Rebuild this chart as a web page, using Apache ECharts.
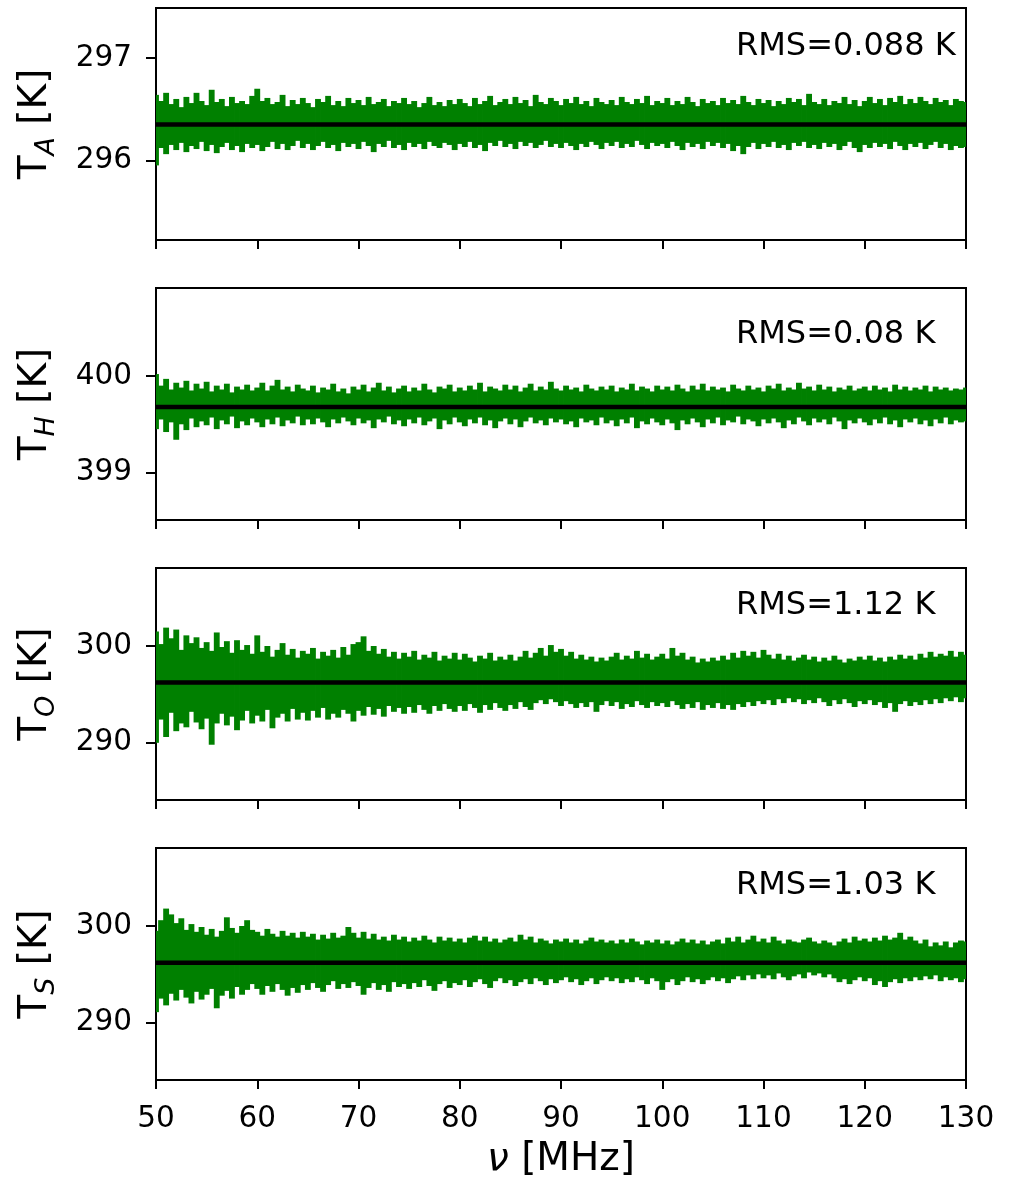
<!DOCTYPE html>
<html><head><meta charset="utf-8">
<script src="https://cdn.jsdelivr.net/npm/echarts@6/dist/echarts.min.js"></script>
<style>html,body{margin:0;padding:0;background:#fff}#c{width:1013px;height:1187px}</style>
</head><body><div id="c"></div>
<script>
// sample frequencies: 50 .. 130 MHz every 0.5 MHz (161 samples)
const freqStart = 50, freqStep = 0.5;

// T_A envelope (upper / lower spike extents)
const taHi = [
296.64,296.58,296.66,296.55,296.60,296.52,296.62,296.56,296.66,296.58,
296.54,296.69,296.57,296.60,296.53,296.62,296.56,296.58,296.55,296.63,
296.70,296.58,296.61,296.55,296.57,296.64,296.53,296.59,296.55,296.61,
296.56,296.52,296.60,296.57,296.63,296.54,296.58,296.53,296.61,296.56,
296.59,296.54,296.62,296.55,296.57,296.60,296.53,296.58,296.56,296.61,
296.55,296.58,296.52,296.56,296.62,296.54,296.57,296.53,296.59,296.55,
296.60,296.56,296.53,296.61,296.55,296.58,296.63,296.54,296.57,296.60,
296.55,296.62,296.56,296.59,296.53,296.64,296.57,296.55,296.61,296.58,
296.54,296.60,296.56,296.62,296.55,296.58,296.53,296.61,296.57,296.55,
296.59,296.54,296.62,296.57,296.55,296.60,296.56,296.63,296.54,296.58,
296.56,296.61,296.54,296.58,296.55,296.62,296.57,296.53,296.60,296.56,
296.58,296.54,296.61,296.56,296.59,296.55,296.63,296.57,296.54,296.60,
296.56,296.59,296.53,296.58,296.55,296.61,296.57,296.60,296.54,296.65,
296.57,296.55,296.60,296.54,296.58,296.56,296.62,296.55,296.59,296.53,
296.58,296.62,296.56,296.60,296.54,296.61,296.57,296.63,296.55,296.60,
296.56,296.62,296.58,296.55,296.61,296.57,296.59,296.54,296.60,296.58,
296.57];
const taLo = [
295.95,296.12,296.06,296.15,296.10,296.17,296.08,296.14,296.11,296.18,
296.09,296.15,296.07,296.13,296.17,296.10,296.14,296.08,296.16,296.12,
296.15,296.09,296.13,296.18,296.11,296.16,296.10,296.14,296.19,296.12,
296.16,296.10,296.14,296.18,296.12,296.15,296.09,296.17,296.13,296.16,
296.11,296.18,296.14,296.08,296.16,296.13,296.19,296.12,296.15,296.10,
296.17,296.13,296.16,296.11,296.18,296.14,296.12,296.17,296.15,296.10,
296.16,296.13,296.18,296.12,296.15,296.09,296.17,296.14,296.19,296.13,
296.16,296.11,296.18,296.14,296.17,296.12,296.15,296.19,296.13,296.16,
296.12,296.17,296.14,296.10,296.16,296.13,296.18,296.15,296.11,296.17,
296.14,296.18,296.12,296.16,296.13,296.19,296.15,296.11,296.17,296.14,
296.16,296.12,296.18,296.14,296.10,296.17,296.13,296.16,296.11,296.18,
296.14,296.17,296.12,296.16,296.09,296.14,296.06,296.13,296.17,296.11,
296.16,296.13,296.18,296.12,296.15,296.10,296.17,296.14,296.18,296.12,
296.15,296.11,296.17,296.13,296.16,296.10,296.14,296.18,296.12,296.08,
296.15,296.12,296.17,296.13,296.16,296.11,296.18,296.14,296.10,296.16,
296.13,296.17,296.11,296.15,296.18,296.12,296.16,296.10,296.14,296.12,
296.13];

// T_H envelope
const thHi = [
400.02,399.90,399.97,399.86,399.93,399.88,399.95,399.85,399.92,399.87,
399.94,399.84,399.90,399.86,399.92,399.83,399.89,399.86,399.91,399.85,
399.88,399.93,399.85,399.90,399.96,399.86,399.89,399.84,399.91,399.87,
399.85,399.90,399.83,399.88,399.86,399.92,399.84,399.87,399.82,399.89,
399.86,399.91,399.84,399.88,399.93,399.85,399.89,399.83,399.87,399.90,
399.84,399.88,399.85,399.92,399.86,399.83,399.89,399.87,399.91,399.84,
399.88,399.85,399.90,399.86,399.93,399.84,399.89,399.87,399.85,399.91,
399.86,399.90,399.84,399.88,399.92,399.85,399.89,399.86,399.94,399.87,
399.85,399.90,399.86,399.88,399.84,399.91,399.87,399.85,399.89,399.86,
399.90,399.84,399.88,399.86,399.92,399.85,399.89,399.87,399.84,399.90,
399.86,399.89,399.85,399.91,399.87,399.84,399.90,399.86,399.92,399.85,
399.89,399.86,399.88,399.84,399.91,399.87,399.85,399.90,399.86,399.88,
399.84,399.90,399.87,399.92,399.85,399.88,399.86,399.93,399.87,399.89,
399.85,399.91,399.86,399.89,399.84,399.88,399.86,399.90,399.85,399.87,
399.89,399.85,399.90,399.86,399.88,399.84,399.91,399.86,399.89,399.85,
399.88,399.86,399.90,399.84,399.89,399.86,399.88,399.85,399.87,399.86,
399.88];
const thLo = [
399.45,399.55,399.42,399.52,399.34,399.50,399.44,399.56,399.47,399.53,
399.49,399.57,399.45,399.54,399.50,399.58,399.46,399.53,399.49,399.56,
399.52,399.47,399.55,399.50,399.57,399.48,399.54,399.51,399.58,399.49,
399.55,399.50,399.56,399.52,399.47,399.55,399.51,399.57,399.53,399.49,
399.56,399.51,399.54,399.46,399.55,399.52,399.58,399.50,399.54,399.48,
399.55,399.51,399.57,399.49,399.53,399.56,399.45,399.54,399.50,399.57,
399.52,399.48,399.55,399.51,399.57,399.49,399.54,399.46,399.53,399.56,
399.50,399.55,399.47,399.53,399.57,399.51,399.54,399.49,399.56,399.52,
399.55,399.50,399.53,399.47,399.56,399.52,399.54,399.49,399.57,399.51,
399.54,399.48,399.55,399.51,399.57,399.46,399.53,399.50,399.56,399.52,
399.49,399.55,399.51,399.44,399.54,399.50,399.56,399.52,399.47,399.55,
399.51,399.57,399.49,399.54,399.52,399.58,399.50,399.55,399.53,399.48,
399.55,399.51,399.56,399.52,399.46,399.54,399.50,399.57,399.53,399.49,
399.56,399.52,399.55,399.50,399.57,399.53,399.45,399.54,399.51,399.56,
399.52,399.49,399.55,399.51,399.57,399.50,399.54,399.47,399.55,399.52,
399.56,399.50,399.54,399.48,399.55,399.51,399.57,399.50,399.54,399.52,
399.53];

// T_O envelope
const toHi = [
301.5,300.2,301.9,300.8,301.7,299.6,301.1,300.3,300.9,299.8,
300.4,299.5,301.4,299.9,300.5,299.3,300.6,299.6,300.1,299.2,
301.1,299.4,300.0,298.9,299.6,300.3,299.1,299.7,298.8,299.5,
299.2,299.8,298.7,299.4,299.0,299.6,298.8,299.9,299.1,300.2,
300.4,301.0,299.5,300.0,299.2,299.7,298.9,299.4,298.7,299.3,
298.9,299.5,298.6,299.1,298.8,299.4,298.5,299.0,298.7,299.3,
298.6,299.2,298.8,298.4,299.0,298.7,299.3,298.5,298.9,298.6,
299.1,298.5,298.9,299.5,298.8,299.3,299.8,299.0,300.1,299.4,
299.7,299.0,299.4,298.7,299.1,298.6,298.9,298.4,298.8,298.5,
298.9,299.3,298.6,299.0,298.7,299.5,298.8,299.2,298.6,298.9,
299.2,298.7,299.8,299.0,299.3,298.6,298.9,298.3,298.7,298.4,
298.8,298.5,299.0,298.6,299.3,298.8,299.5,299.0,299.4,298.8,
299.6,299.1,298.7,299.2,298.6,299.0,298.5,298.8,299.1,298.6,
298.9,298.4,298.8,298.5,299.0,298.6,298.3,298.7,298.5,298.9,
298.6,299.0,298.5,298.8,298.4,298.9,298.6,299.1,298.7,299.0,
298.6,299.2,298.8,299.4,298.9,299.2,299.0,299.5,298.9,299.4,
299.1];
const toLo = [
290.0,292.4,290.6,293.1,291.2,292.0,291.6,293.2,292.1,291.4,
292.5,289.8,292.0,293.0,291.8,292.7,291.3,292.3,293.3,292.0,
292.8,292.2,293.4,291.5,292.6,293.0,292.2,293.5,292.4,293.1,
292.3,293.3,292.6,293.6,292.4,293.0,292.6,293.4,293.0,292.2,
293.3,292.8,293.7,292.9,293.5,292.7,293.8,293.2,293.6,293.0,
293.7,293.1,293.9,293.4,293.0,293.8,293.3,294.0,293.5,293.2,
293.8,293.3,294.0,293.6,293.1,293.9,293.4,294.1,293.6,293.3,
293.9,293.5,294.2,293.7,293.4,294.1,294.4,294.0,294.5,294.2,
293.8,294.3,294.0,293.6,294.1,293.7,294.2,293.2,293.9,294.3,
293.8,294.2,293.5,294.0,293.7,294.3,293.9,293.6,294.2,293.8,
294.1,293.7,294.3,293.9,293.5,294.0,293.6,294.2,293.4,293.9,
293.6,294.1,293.5,293.9,293.4,294.0,293.7,294.2,293.8,294.3,
294.0,294.4,293.9,294.5,294.1,294.6,294.2,294.5,294.0,294.4,
294.1,294.6,294.2,293.8,294.4,294.0,294.5,294.1,293.7,294.3,
294.0,294.4,293.9,294.2,293.6,294.1,293.2,294.0,294.3,293.8,
294.2,293.9,294.4,294.0,294.5,294.1,294.6,294.3,294.7,294.2,
294.6];

// T_S envelope
const tsHi = [
299.5,300.6,301.8,301.2,300.3,300.8,299.6,300.2,299.4,299.9,
299.1,299.7,298.9,299.5,300.9,299.8,299.3,300.0,300.6,299.6,
299.4,299.0,299.7,299.2,298.9,299.5,299.0,299.3,298.8,299.4,
298.9,299.2,298.6,299.1,298.7,299.3,298.8,299.0,299.9,299.3,
298.8,299.4,298.7,299.2,298.6,298.9,298.5,299.1,298.6,298.9,
298.4,298.8,298.5,299.0,298.6,298.3,298.9,298.5,298.8,298.4,
298.7,298.3,298.8,299.0,298.5,298.9,298.4,298.7,298.3,298.6,
298.8,298.4,299.1,298.6,298.9,298.3,298.7,298.5,298.2,298.6,
298.4,298.7,298.3,298.6,298.2,298.5,298.8,298.4,298.6,298.3,
298.5,298.2,298.6,298.3,298.7,298.4,298.1,298.5,298.3,298.6,
298.2,298.5,298.1,298.4,298.7,298.3,298.6,298.2,298.5,298.1,
298.4,298.6,298.2,298.8,298.4,298.9,298.3,298.6,299.0,298.4,
298.7,298.3,298.9,298.5,298.2,298.6,298.4,298.3,298.6,298.8,
298.4,298.2,298.5,298.3,298.0,298.4,298.7,298.3,298.9,298.5,
298.7,298.4,298.8,298.5,299.0,298.6,298.8,299.3,298.6,298.9,
298.5,298.2,298.6,297.9,298.3,298.0,298.4,297.8,298.3,298.5,
298.4];
const tsLo = [
291.1,292.5,291.8,293.0,292.3,293.4,292.6,292.0,293.2,292.4,
292.9,293.5,291.5,292.8,293.3,292.5,293.7,292.9,293.4,294.0,
293.5,292.9,293.8,293.2,294.0,293.4,292.8,293.6,293.1,293.9,
293.4,294.1,293.6,293.2,293.9,294.3,293.5,294.0,293.6,294.2,
293.8,292.9,293.6,294.1,293.4,293.9,293.2,294.2,293.7,294.0,
293.5,294.1,293.7,294.4,293.8,293.3,294.0,294.3,293.6,294.1,
293.9,294.4,293.7,294.2,294.5,294.0,293.6,294.3,294.6,294.1,
294.4,293.8,294.2,294.5,294.0,294.6,294.3,293.9,294.5,294.1,
294.4,294.7,294.2,294.5,293.9,294.3,294.6,294.0,294.4,294.7,
294.3,294.6,294.1,294.5,294.2,294.7,294.4,294.0,294.6,294.3,
293.4,294.2,294.5,293.9,294.3,294.7,294.2,294.5,294.0,294.4,
294.7,294.3,294.6,294.1,294.5,294.8,294.4,294.9,294.5,295.0,
294.6,294.9,294.5,295.1,294.7,294.4,294.8,295.0,294.6,295.2,
294.9,295.1,294.7,295.0,294.6,294.2,294.5,294.0,294.4,294.7,
294.3,294.6,293.9,294.3,293.7,294.2,294.5,294.1,294.6,294.3,
294.7,294.4,294.8,294.5,294.9,294.3,294.7,294.4,294.6,294.2,
294.5];

// mean levels (black lines)
const means = [296.35, 399.68, 296.22, 296.2];
const rmsTexts = ['RMS=0.088 K', 'RMS=0.08 K', 'RMS=1.12 K', 'RMS=1.03 K'];
const subs = ['A', 'H', 'O', 'S'];
const yTicks = [[296, 297], [399, 400], [290, 300], [290, 300]];
const xTicks = [50, 60, 70, 80, 90, 100, 110, 120, 130];

const his = [taHi, thHi, toHi, tsHi];
const los = [taLo, thLo, toLo, tsLo];
const yRanges = [[295.22, 297.49], [398.51, 400.91], [284.09, 308.06], [284.09, 308.06]];

const FONT = 'DejaVu Sans';
const GREEN = '#008000';
const tops = [8, 288, 568, 848];
const rmsY = [47, 335, 606, 886];

const grids = [], xAxes = [], yAxes = [], series = [], graphics = [];
for (let i = 0; i < 4; i++) {
  grids.push({left: 156, right: 47, top: tops[i], height: 232, show: true,
    borderColor: '#000', borderWidth: 2, backgroundColor: 'transparent'});
  xAxes.push({type: 'value', gridIndex: i, min: xTicks[0], max: xTicks[xTicks.length - 1], interval: 10,
    axisLine: {show: true, onZero: false, lineStyle: {color: '#000', width: 2}},
    axisTick: {show: true, length: 9, lineStyle: {color: '#000', width: 2}},
    axisLabel: {show: i === 3, fontSize: 29.5, fontFamily: FONT, color: '#000', margin: 24},
    splitLine: {show: false},
    name: i === 3 ? '{i|ν} [MHz]' : '', nameLocation: 'middle', nameGap: 60,
    nameTextStyle: {fontSize: 39, fontFamily: FONT, color: '#000',
      rich: {i: {fontSize: 39, fontFamily: FONT, fontStyle: 'italic', color: '#000'}}}
  });
  yAxes.push({type: 'value', gridIndex: i, min: yRanges[i][0], max: yRanges[i][1],
    axisLine: {show: true, onZero: false, lineStyle: {color: '#000', width: 2}},
    axisTick: {show: true, length: 10, lineStyle: {color: '#000', width: 2}, customValues: yTicks[i]},
    axisLabel: {fontSize: 29.5, fontFamily: FONT, color: '#000', margin: 24, customValues: yTicks[i]},
    splitLine: {show: false},
    name: '{t|T}{s|' + subs[i] + '}{t| [K]}', nameLocation: 'middle', nameRotate: 90, nameGap: 96,
    nameTextStyle: {color: '#000', rich: {
      t: {fontSize: 39, fontFamily: FONT, color: '#000', lineHeight: 44, verticalAlign: 'top'},
      s: {fontSize: 27, fontFamily: FONT, fontStyle: 'italic', color: '#000', lineHeight: 27, verticalAlign: 'bottom'}
    }}
  });
  const hi = his[i], lo = los[i];
  series.push({
    type: 'custom', xAxisIndex: i, yAxisIndex: i, clip: true, silent: true,
    encode: {x: 0, y: [1, 2]},
    data: hi.map((h, j) => [freqStart + j * freqStep, lo[j], h]),
    renderItem: function (params, api) {
      const x = api.value(0);
      const top = api.coord([x, api.value(2)]);
      const bot = api.coord([x, api.value(1)]);
      const w = api.size([freqStep, 0])[0];
      return {type: 'rect', shape: {x: top[0] - w / 2 - 0.4, y: top[1], width: w + 0.8, height: bot[1] - top[1]},
        style: {fill: GREEN}};
    },
    z: 2
  });
  series.push({
    type: 'line', xAxisIndex: i, yAxisIndex: i, symbol: 'none', silent: true,
    data: [[xTicks[0], means[i]], [xTicks[xTicks.length - 1], means[i]]],
    lineStyle: {color: '#000', width: 4.5}, z: 3
  });
  graphics.push({type: 'text', x: 736, y: rmsY[i], z: 10,
    style: {text: rmsTexts[i], fontSize: 32, fontFamily: FONT, fill: '#000',
      align: 'left', verticalAlign: 'middle', textAlign: 'left', textVerticalAlign: 'middle'}});
}

const chart = echarts.init(document.getElementById('c'), null, {renderer: 'canvas'});
chart.setOption({
  animation: false,
  backgroundColor: '#fff',
  grid: grids, xAxis: xAxes, yAxis: yAxes, series: series, graphic: graphics
});
</script>
</body></html>
